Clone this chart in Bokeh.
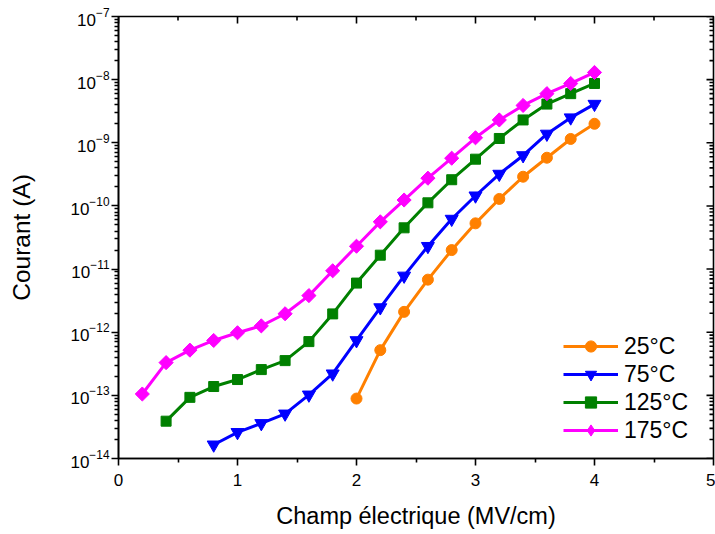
import math
from bokeh.plotting import figure
from bokeh.models import (LinearAxis, LogAxis, FixedTicker, LogTickFormatter,
                          Range1d, Legend, LegendItem, ColumnDataSource)
from bokeh.embed import file_html
from bokeh.resources import INLINE

# ---- data ----
field_25 = [2.0, 2.2, 2.4, 2.6, 2.8, 3.0, 3.2, 3.4, 3.6, 3.8, 4.0]
current_25 = [8.9e-14, 5.2e-13, 2.1e-12, 6.8e-12, 2.0e-11, 5.3e-11, 1.29e-10,
              2.9e-10, 5.8e-10, 1.15e-9, 2.0e-9]

field_75 = [0.8, 1.0, 1.2, 1.4, 1.6, 1.8, 2.0, 2.2, 2.4, 2.6, 2.8, 3.0, 3.2,
            3.4, 3.6, 3.8, 4.0]
current_75 = [1.65e-14, 2.6e-14, 3.6e-14, 5.1e-14, 1.02e-13, 2.2e-13, 7.4e-13,
              2.46e-12, 7.8e-12, 2.3e-11, 6.2e-11, 1.45e-10, 3.2e-10, 6.3e-10,
              1.38e-9, 2.5e-9, 4.1e-9]

field_125 = [0.4, 0.6, 0.8, 1.0, 1.2, 1.4, 1.6, 1.8, 2.0, 2.2, 2.4, 2.6, 2.8,
             3.0, 3.2, 3.4, 3.6, 3.8, 4.0]
current_125 = [3.9e-14, 9.3e-14, 1.38e-13, 1.78e-13, 2.56e-13, 3.55e-13,
               7.1e-13, 1.95e-12, 6.0e-12, 1.66e-11, 4.5e-11, 1.12e-10, 2.6e-10,
               5.5e-10, 1.17e-9, 2.3e-9, 4.1e-9, 6.0e-9, 8.7e-9]

field_175 = [0.2, 0.4, 0.6, 0.8, 1.0, 1.2, 1.4, 1.6, 1.8, 2.0, 2.2, 2.4, 2.6,
             2.8, 3.0, 3.2, 3.4, 3.6, 3.8, 4.0]
current_175 = [1.05e-13, 3.3e-13, 5.2e-13, 7.4e-13, 9.8e-13, 1.26e-12, 1.96e-12,
               3.8e-12, 9.4e-12, 2.3e-11, 5.6e-11, 1.24e-10, 2.75e-10, 5.7e-10,
               1.2e-9, 2.3e-9, 3.9e-9, 6.0e-9, 8.7e-9, 1.3e-8]

series_labels = ["25°C", "75°C", "125°C", "175°C"]
series_colors = ["#FF8000", "#0000FF", "#008000", "#FF00FF"]
series_markers = ["circle", "inverted_triangle", "square", "square"]
legend_markers = ["circle", "inverted_triangle", "square", "diamond"]
series_angles = [0, 0, 0, math.pi / 4]
series_sizes = [11, 13, 10, 10]
legend_sizes = [11, 12, 10, 14]

x_ticks = [0, 1, 2, 3, 4, 5]
x_minor = [0.5, 1.5, 2.5, 3.5, 4.5]
y_exponents = [-14, -13, -12, -11, -10, -9, -8, -7]

FONT = "Liberation Sans"
AX_W = 1.6

y_major = [10.0 ** e for e in y_exponents]
y_minor = [m * 10.0 ** e for e in y_exponents[:-1] for m in range(2, 10)]

p = figure(width=715, height=534, output_backend="svg", toolbar_location=None,
           x_range=Range1d(x_ticks[0], x_ticks[-1]),
           y_range=Range1d(y_major[0], y_major[-1]),
           y_axis_type="log", x_axis_location=None, y_axis_location=None,
           min_border_left=118, min_border_right=2, min_border_top=16,
           min_border_bottom=76)
p.outline_line_color = "black"
p.outline_line_width = AX_W
p.xgrid.visible = False
p.ygrid.visible = False

xt = FixedTicker(ticks=x_ticks, minor_ticks=x_minor)
yt = FixedTicker(ticks=y_major, minor_ticks=y_minor)


def style(ax, title_size):
    ax.axis_line_width = AX_W
    ax.axis_line_color = "black"
    ax.major_tick_line_width = AX_W
    ax.minor_tick_line_width = AX_W
    ax.major_tick_line_color = "black"
    ax.minor_tick_line_color = "black"
    ax.major_tick_in, ax.major_tick_out = 0, 7
    ax.minor_tick_in, ax.minor_tick_out = 0, 4
    ax.major_label_text_font = FONT
    ax.major_label_text_font_size = "17px"
    ax.major_label_text_color = "black"
    ax.axis_label_text_font = FONT
    ax.axis_label_text_font_size = title_size
    ax.axis_label_text_font_style = "normal"
    ax.axis_label_text_color = "black"


xb = LinearAxis(ticker=xt, axis_label="Champ électrique (MV/cm)")
style(xb, "23.5px")
xb.major_label_standoff = 8
xb.axis_label_standoff = 14
p.add_layout(xb, "below")

yl = LogAxis(ticker=yt, formatter=LogTickFormatter(), axis_label="Courant (A)")
style(yl, "24.5px")
yl.major_label_standoff = 2
yl.axis_label_standoff = 32
p.add_layout(yl, "left")

# inward ticks on the top and right edges of the frame
p.ray(x=x_ticks, y=[y_major[-1]] * len(x_ticks), length=7, length_units="screen",
      angle=-math.pi / 2, line_color="black", line_width=AX_W)
p.ray(x=x_minor, y=[y_major[-1]] * len(x_minor), length=4, length_units="screen",
      angle=-math.pi / 2, line_color="black", line_width=AX_W)
p.ray(x=[x_ticks[-1]] * len(y_major), y=y_major, length=7, length_units="screen",
      angle=math.pi, line_color="black", line_width=AX_W)
p.ray(x=[x_ticks[-1]] * len(y_minor), y=y_minor, length=4, length_units="screen",
      angle=math.pi, line_color="black", line_width=AX_W)

NAN = float("nan")
items = []
for xs, ys, lab, col, mk, lmk, ang, sz, lsz in zip(
        [field_25, field_75, field_125, field_175],
        [current_25, current_75, current_125, current_175],
        series_labels, series_colors, series_markers, legend_markers,
        series_angles, series_sizes, legend_sizes):
    ln = p.line(xs, ys, line_color=col, line_width=3)
    p.scatter(xs, ys, marker=mk, size=sz, angle=ang,
              fill_color=col, line_color=col)
    # marker used only for the legend swatch (a NaN point, not drawn)
    key = p.scatter(x="x", y="y", source=ColumnDataSource(dict(x=[NAN], y=[NAN])),
                    marker=lmk, size=lsz, fill_color=col, line_color=col)
    items.append(LegendItem(label=lab, renderers=[ln, key]))

legend = Legend(items=items, location=(445, 14), padding=0, margin=0,
                spacing=0, glyph_width=55, glyph_height=28, label_height=28,
                label_standoff=6, label_text_font=FONT,
                label_text_font_size="23px", label_text_color="black",
                border_line_alpha=0, background_fill_alpha=0)
p.add_layout(legend, "center")

open("out.html", "w").write(file_html(p, INLINE))
